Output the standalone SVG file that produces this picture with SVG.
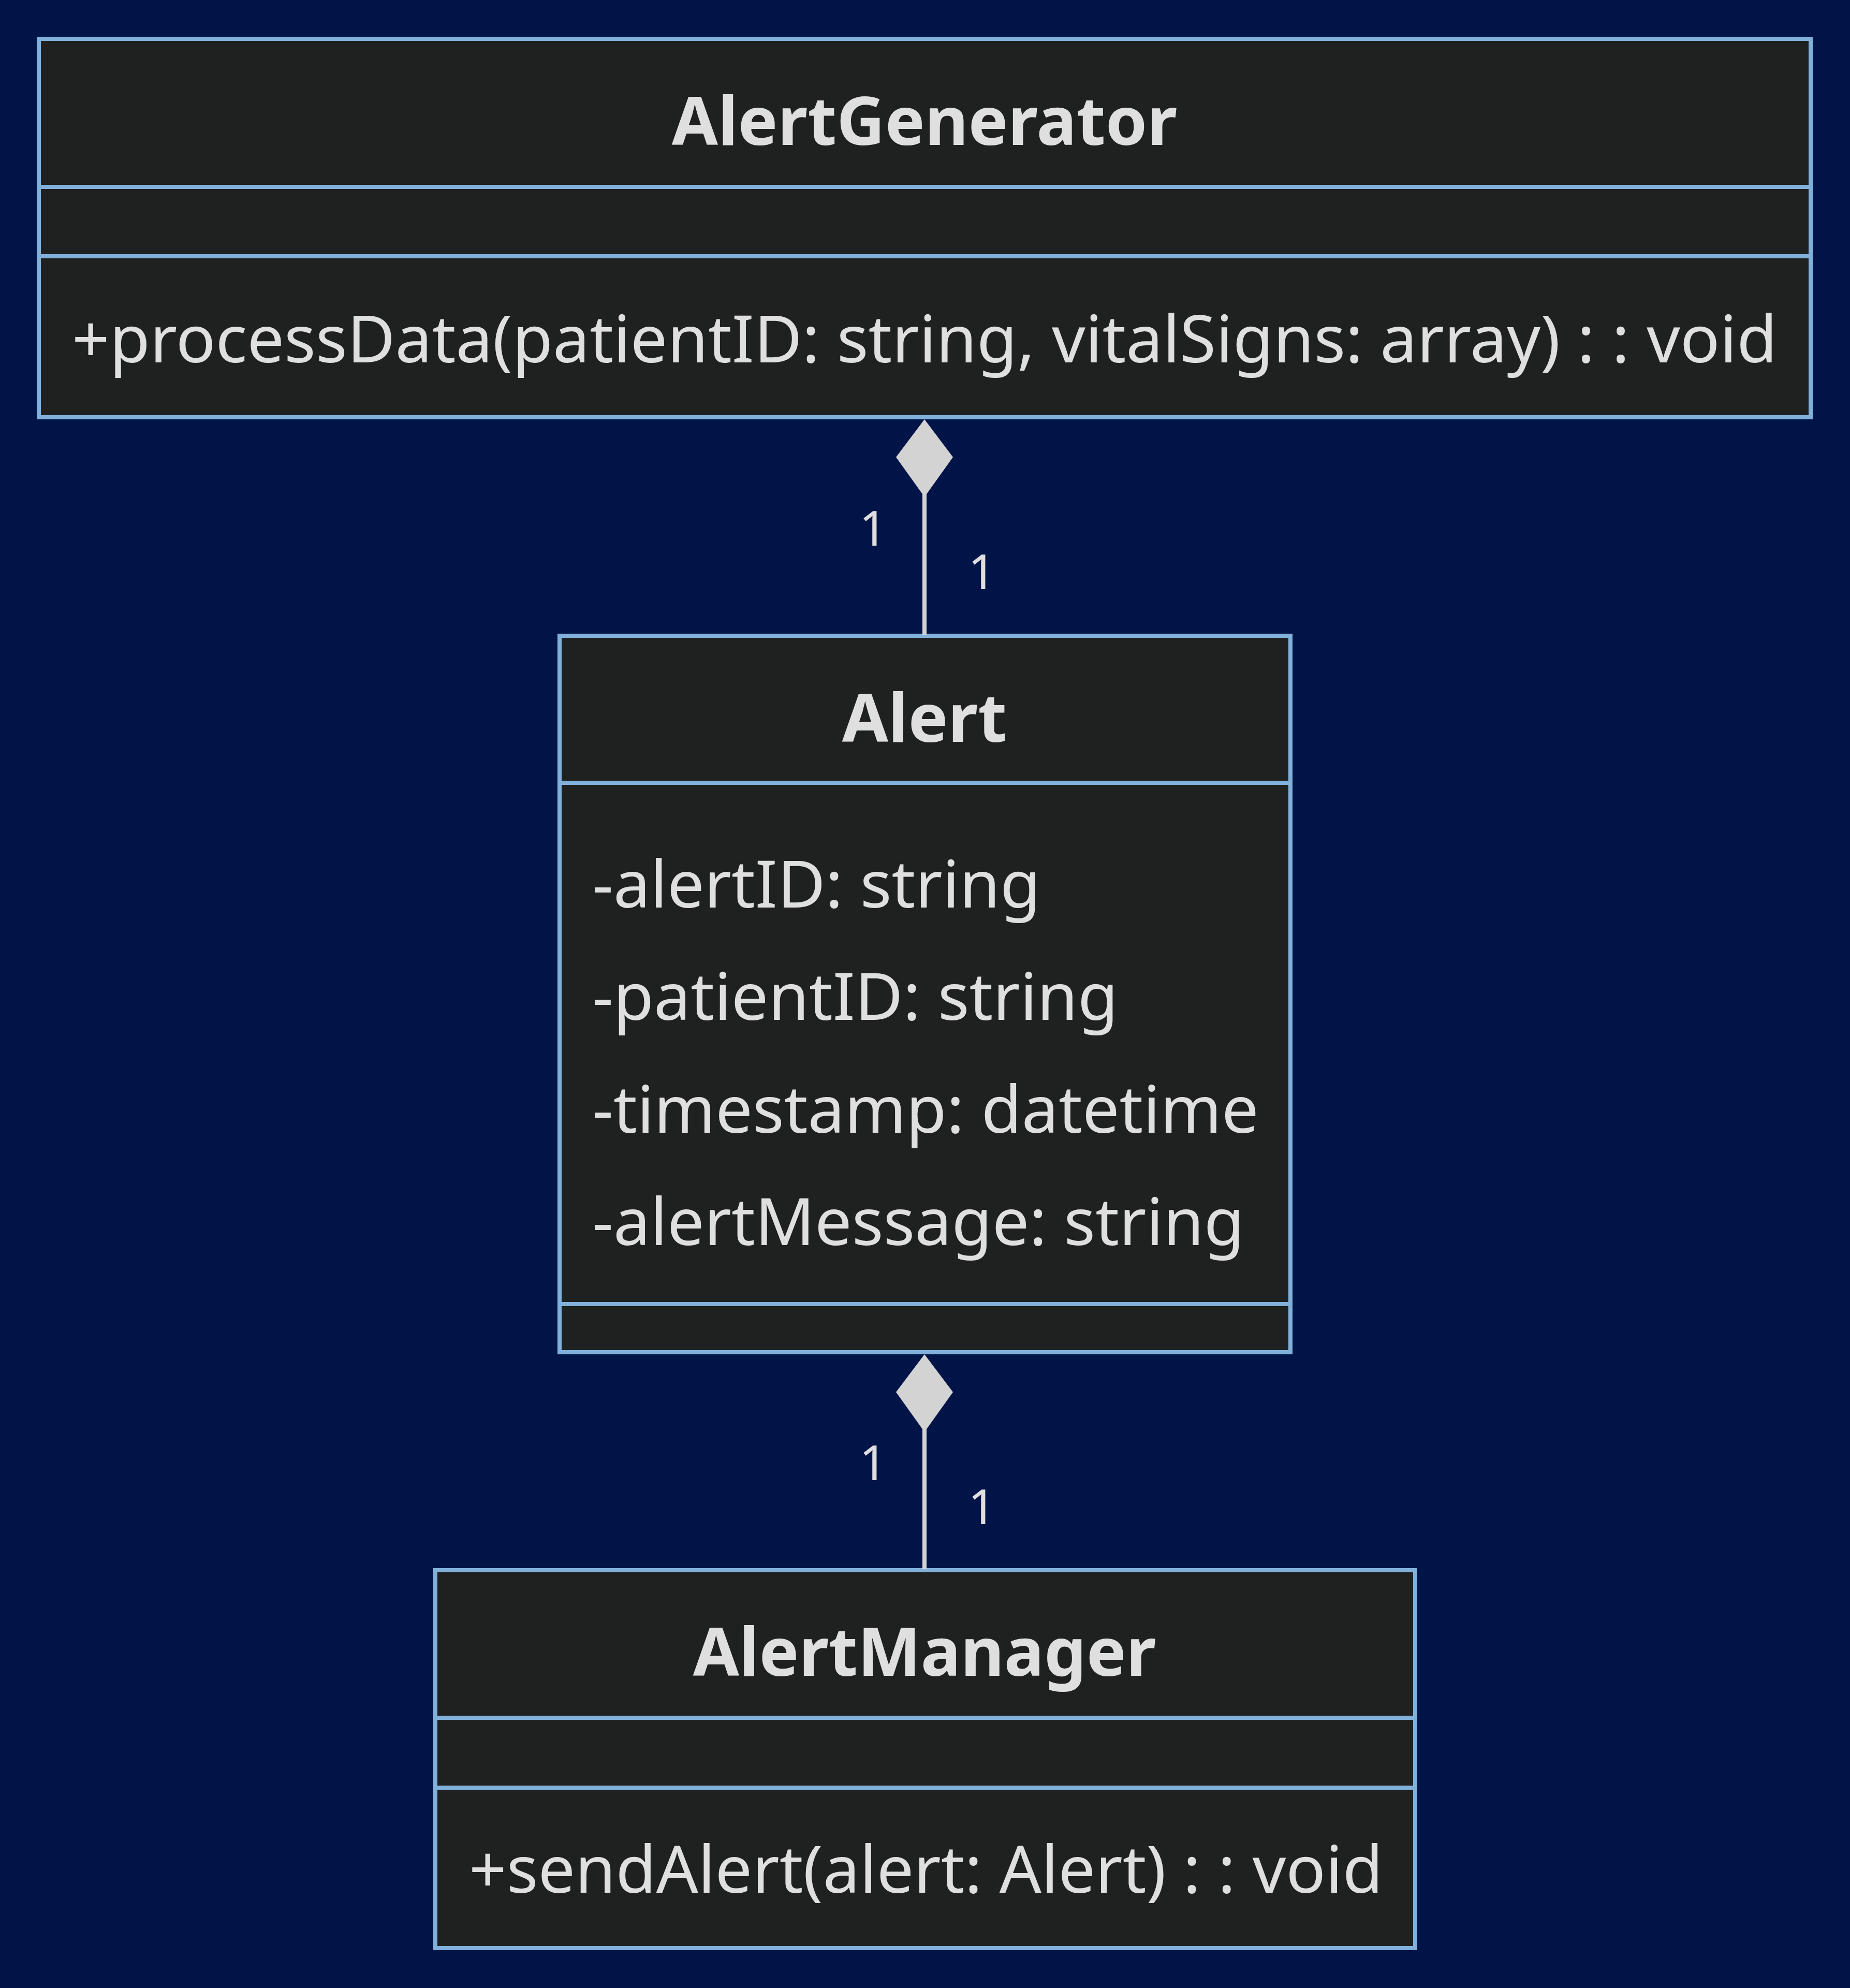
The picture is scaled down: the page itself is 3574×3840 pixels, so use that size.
<svg xmlns="http://www.w3.org/2000/svg" width="3574" height="3840" viewBox="0 0 3574 3840">
<style>
.box{fill:#1f2020;stroke:#81b1db;stroke-width:8}
.div{stroke:#81b1db;stroke-width:8}
.title{font-family:"Noto Sans",sans-serif;font-weight:bold;font-size:129px;fill:#e0dfdf;text-anchor:middle}
.mem{font-family:"Noto Sans",sans-serif;font-size:127px;fill:#e0dfdf}
.lbl{font-family:"Noto Sans",sans-serif;font-size:94px;fill:#e0dfdf;text-anchor:middle}
.edge{stroke:#d3d3d3;stroke-width:8;fill:none}
.dia{fill:#d3d3d3}
</style>
<rect width="3574" height="3840" fill="#001447"/>
<g id="AlertGenerator">
<rect class="box" x="75" y="75" width="3423" height="731"/>
<line class="div" x1="75" y1="361" x2="3498" y2="361"/>
<line class="div" x1="75" y1="495" x2="3498" y2="495"/>
<text class="title" x="1786" y="280">AlertGenerator</text>
<text class="mem" x="139" y="700">+processData(patientID: string, vitalSigns: array) : : void</text>
</g>
<g id="Alert">
<rect class="box" x="1081" y="1228" width="1412" height="1384"/>
<line class="div" x1="1081" y1="1512" x2="2493" y2="1512"/>
<line class="div" x1="1081" y1="2519" x2="2493" y2="2519"/>
<text class="title" x="1786" y="1433">Alert</text>
<text class="mem" x="1144" y="1753">-alertID: string</text>
<text class="mem" x="1144" y="1970">-patientID: string</text>
<text class="mem" x="1144" y="2188">-timestamp: datetime</text>
<text class="mem" x="1144" y="2405">-alertMessage: string</text>
</g>
<g id="AlertManager">
<rect class="box" x="841" y="3033" width="1893" height="730"/>
<line class="div" x1="841" y1="3318" x2="2734" y2="3318"/>
<line class="div" x1="841" y1="3453" x2="2734" y2="3453"/>
<text class="title" x="1786" y="3237">AlertManager</text>
<text class="mem" x="906" y="3656">+sendAlert(alert: Alert) : : void</text>
</g>
<g id="connectors">
<line class="edge" x1="1786" y1="950" x2="1786" y2="1226"/>
<polygon class="dia" points="1786,810 1841,883 1786,960 1731,883"/>
<text class="lbl" x="1687" y="1054">1</text>
<text class="lbl" x="1897" y="1138">1</text>
<line class="edge" x1="1786" y1="2756" x2="1786" y2="3031"/>
<polygon class="dia" points="1786,2616 1841,2689 1786,2766 1731,2689"/>
<text class="lbl" x="1687" y="2859">1</text>
<text class="lbl" x="1897" y="2944">1</text>
</g>
</svg>
